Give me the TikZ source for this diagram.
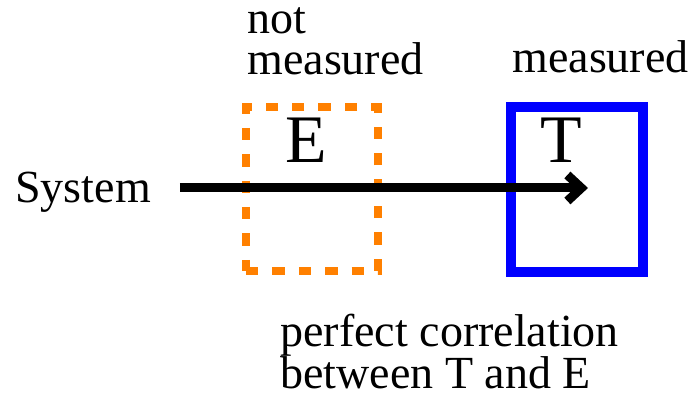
\documentclass[tikz,border=0pt]{standalone}
\usepackage{fontspec}
\setmainfont{Liberation Serif}
\usetikzlibrary{arrows.meta, positioning}
\definecolor{myorange}{HTML}{FF8000}
\definecolor{myblue}{HTML}{0000FF}
\tikzset{
	labelnode/.style={
			anchor=base west,
			inner sep=0pt,
			align=left,
			font=\fontsize{23}{20.5}\selectfont
		},
	letternode/.style={
			anchor=base,
			inner sep=0pt,
			font=\fontsize{34}{34}\selectfont
		},
	hiddenbox/.style={
			shape=rectangle,
			draw=myorange,
			line width=4.2pt,
			dash pattern=on 6.2pt off 7pt,
			minimum width=66pt,
			minimum height=82pt,
			inner sep=0pt
		},
	seenbox/.style={
			shape=rectangle,
			draw=myblue,
			line width=5pt,
			minimum width=66pt,
			minimum height=82.5pt,
			inner sep=0pt
		},
	flowline/.style={
			line width=4.5pt,
			-{Straight Barb[length=7pt,width=13pt]}
		}
}

\begin{document}
\begin{tikzpicture}[x=0.5pt, y=-0.5pt]
  \useasboundingbox (0,0) rectangle (693,405);

  \node[hiddenbox] (env) at (312,189) {};
  \node[seenbox] (tgt) at (577,189.5) {};

  \coordinate (src) at (180,188);
  \coordinate (sink) at (588,188);
  \draw[flowline] (src) -- (sink);

  \node[letternode] (eletter) at (306,163) {E};
  \node[letternode] (tletter) at (561,163) {T};

  % base of a two-line label is its last line
  \node[labelnode] (sys) at (15,203) {System};
  \node[labelnode] (notmeas) at (247,75) {not\\measured};
  \node[labelnode] (meas) at (512,73) {measured};
  \node[labelnode, font=\fontsize{23}{21}\selectfont] (corr) at (280,389) {perfect correlation\\between T and E};

\end{tikzpicture}
\end{document}
